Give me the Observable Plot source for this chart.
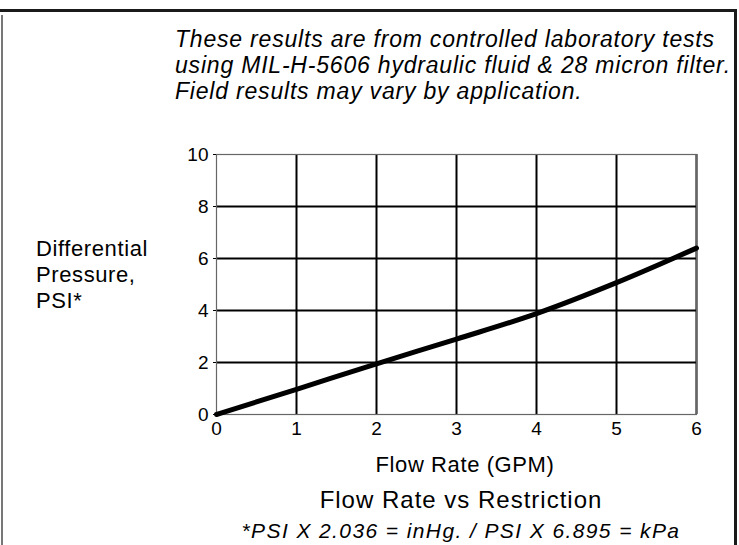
<!DOCTYPE html>
<html>
<head>
<meta charset="utf-8">
<script src="https://cdn.jsdelivr.net/npm/d3@7"></script>
<script src="https://cdn.jsdelivr.net/npm/@observablehq/plot@0.6"></script>
<style>
  html, body { margin: 0; padding: 0; background: #fff; }
  #wrap { position: relative; width: 739px; height: 545px; overflow: hidden; font-family: "Liberation Sans", Arial, Helvetica, sans-serif; color: #000; }
  #wrap svg { position: absolute; left: 0; top: 0; }
  #wrap svg text { font-size: 19px !important; fill: #000; }
  .b { position: absolute; }
  .t { position: absolute; white-space: nowrap; }
</style>
</head>
<body>
<div id="wrap">
  <div class="b" style="left:0;top:9px;width:737px;height:3px;background:#1a1a1a"></div>
  <div class="b" style="left:734px;top:9px;width:3px;height:536px;background:#1a1a1a"></div>
  <div class="b" style="left:1px;top:15px;width:2px;height:530px;background:#777"></div>
  <div class="t" id="note" style="left:175px;top:26px;font-size:23px;letter-spacing:0.8px;font-style:italic;line-height:26px"></div>
  <div class="t" id="ylab" style="left:36px;top:236px;font-size:22px;letter-spacing:0.6px;line-height:26px"></div>
  <div class="t" id="xlab" style="left:465px;top:452px;font-size:22px;letter-spacing:0.6px;transform:translateX(-50%)"></div>
  <div class="t" id="title" style="left:461px;top:486px;font-size:24px;letter-spacing:1px;transform:translateX(-50%)"></div>
  <div class="t" id="foot" style="left:461px;top:519px;font-size:21px;letter-spacing:1.4px;font-style:italic;transform:translateX(-50%)"></div>
</div>
<script>
const flowGPM = [0, 1, 2, 3, 4, 5, 6];
const pressurePSI = [0, 0.97, 1.95, 2.9, 3.88, 5.07, 6.4];
const xTicks = [0, 1, 2, 3, 4, 5, 6];
const yTicks = [0, 2, 4, 6, 8, 10];
const xGrid = [1, 2, 3, 4, 5, 6];
const yGrid = [2, 4, 6, 8];
const noteLines = [
  "These results are from controlled laboratory tests",
  "using MIL-H-5606 hydraulic fluid & 28 micron filter.",
  "Field results may vary by application."
];
const yLabelLines = ["Differential", "Pressure,", "PSI*"];
const xLabel = "Flow Rate (GPM)";
const titleText = "Flow Rate vs Restriction";
const footText = "*PSI X 2.036 = inHg. / PSI X 6.895 = kPa";

const data = flowGPM.map((x, i) => ({x, y: pressurePSI[i]}));

const chart = Plot.plot({
  width: 739,
  height: 545,
  marginLeft: 216,
  marginRight: 43,
  marginTop: 154,
  marginBottom: 131,
  style: {fontFamily: "'Liberation Sans', Arial, Helvetica, sans-serif", fontSize: "19px", color: "#000", background: "transparent"},
  x: {domain: [0, 6]},
  y: {domain: [0, 10]},
  marks: [
    Plot.gridX(xGrid, {stroke: "#000", strokeOpacity: 1, strokeWidth: 2}),
    Plot.gridY(yGrid, {stroke: "#000", strokeOpacity: 1, strokeWidth: 2}),
    Plot.frame({stroke: "#666", strokeWidth: 1.2}),
    Plot.axisX(xTicks, {tickSize: 0, tickPadding: 7, label: null}),
    Plot.axisY(yTicks, {tickSize: 3, tickPadding: 5, label: null}),
    Plot.line(data, {x: "x", y: "y", stroke: "#000", strokeWidth: 5, curve: "monotone-x"})
  ]
});
document.getElementById("wrap").appendChild(chart);
document.getElementById("note").innerHTML = noteLines.join("<br>");
document.getElementById("ylab").innerHTML = yLabelLines.join("<br>");
document.getElementById("xlab").textContent = xLabel;
document.getElementById("title").textContent = titleText;
document.getElementById("foot").textContent = footText;
</script>
</body>
</html>
